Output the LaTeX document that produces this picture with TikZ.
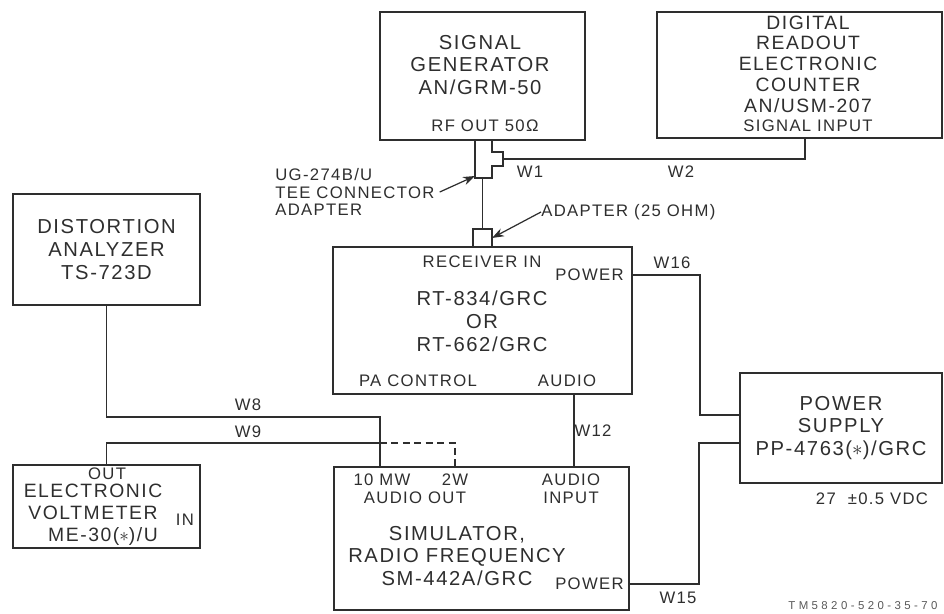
\documentclass[tikz,border=0pt]{standalone}
\usepackage{fontspec}
\setmainfont{Liberation Sans}[LetterSpace=8]
\usetikzlibrary{arrows.meta,positioning,calc}
\usepackage{xcolor}
\definecolor{ink}{HTML}{2E2E2E}
\tikzset{
  unit/.style    = {rectangle, draw=ink, line width=1.3pt, inner sep=0pt, outer sep=0pt,
                    align=center, text=ink, font=\fontsize{11.5}{13}\selectfont},
  big/.style     = {inner sep=0pt, align=center, text=ink, font=\fontsize{11.5}{13}\selectfont},
  port/.style    = {inner sep=0pt, align=center, text=ink, font=\fontsize{9.5}{10.2}\selectfont},
  wire/.style    = {draw=ink, line width=0.9pt},
  dwire/.style   = {draw=ink, line width=0.9pt, dash pattern=on 4pt off 2.5pt},
  callout/.style = {-{Stealth[length=2.4mm,width=1.7mm]}, draw=ink, line width=0.7pt},
}

\begin{document}
\begin{tikzpicture}[x=0.02cm,y=-0.02cm]
    \useasboundingbox (0,0) rectangle (944,613);
    % units
    \node[unit, minimum width=4.1cm, minimum height=2.56cm] (siggen) at (482.5,76) {};
    \node[big] (siggentxt) at (480,65) {SIGNAL\\GENERATOR\\AN/GRM-50};
    \node[port] (rfout) at (485,126) {RF OUT 50Ω};
    \node[unit, minimum width=5.7cm, minimum height=2.52cm] (counter) at (799.5,75) {};
    \node[big, font=\fontsize{11}{11.8}\selectfont] (countertxt) at (808,64) {DIGITAL\\READOUT\\ELECTRONIC\\COUNTER\\AN/USM-207};
    \node[port] (sigin) at (808,126) {SIGNAL INPUT};
    \node[unit, minimum width=3.74cm, minimum height=2.22cm] (distort) at (106.5,249.5) {DISTORTION\\ANALYZER\\TS-723D};
    \node[unit, minimum width=5.98cm, minimum height=2.94cm] (rt) at (482.5,320.5) {};
    \node[port] (rxin) at (482,262) {RECEIVER IN};
    \node[port, anchor=east] (rxpwr) at (624,275) {POWER};
    \node[big] (rttxt) at (482,321) {RT-834/GRC\\OR\\RT-662/GRC};
    \node[port] (pactl) at (418,381) {PA CONTROL};
    \node[port] (rxaudio) at (567,381) {AUDIO};
    \node[unit, minimum width=4.04cm, minimum height=2.2cm] (psu) at (841,428) {POWER\\SUPPLY\\PP-4763($\ast$)/GRC};
    \node[port] (vdc) at (872,499) {27\ \ ±0.5 VDC};
    \node[unit, minimum width=3.74cm, minimum height=1.66cm] (evm) at (106.5,506.5) {};
    \node[port] (vmout) at (107,474) {OUT};
    \node[big, font=\fontsize{11}{12.6}\selectfont] (vmtxt) at (93,502) {ELECTRONIC\\VOLTMETER};
    \node[big, font=\fontsize{11}{12.6}\selectfont] (vmtype) at (103,536) {ME-30($\ast$)/U};
    \node[port] (vmin) at (185,520) {IN};
    \node[unit, minimum width=5.9cm, minimum height=2.86cm] (sim) at (481.5,538.5) {};
    \node[port] (tenmw) at (382,480) {10 MW};
    \node[port] (twow) at (455,480) {2W};
    \node[port] (audout) at (415,498) {AUDIO OUT};
    \node[port] (audin) at (571,489) {AUDIO\\INPUT};
    \node[big] (simtxt) at (457,556) {SIMULATOR,\\RADIO FREQUENCY\\SM-442A/GRC};
    \node[port, anchor=east] (simpwr) at (624,584) {POWER};
    % tee connector and adapter
    \draw[draw=ink, line width=1pt] (475,140) -- (475,178) -- (492,178) -- (492,166) -- (503,166)
        -- (503,152) -- (492,152) -- (492,140);
    \coordinate (teeout) at (503,159);
    \coordinate (teebot) at (482.5,178);
    \node[draw=ink, line width=1pt, inner sep=0pt, outer sep=0pt, minimum width=0.38cm,
          minimum height=0.36cm] (adapter) at (482.5,238) {};
    % cables
    \coordinate (cntin) at (805,138);
    \coordinate (psin1) at (740,415);
    \coordinate (psin2) at (740,443);
    \draw[wire] (teeout) -| (cntin);
    \draw[wire] (teebot) -- (adapter.north);
    \draw[wire] (rt.east |- rxpwr) -- (700,275) -- (700,415) -- (psin1);
    \draw[wire] (sim.east |- simpwr) -- (699,584) -- (699,443) -- (psin2);
    \draw[wire] (rt.south -| 574,0) -- (sim.north -| 574,0);
    \draw[wire] (distort.south) |- (380,417) -- (sim.north -| 380,0);
    \draw[wire] (evm.north) |- (380,443);
    \draw[dwire] (380,443) -| (sim.north -| 455,0);
    % cable names
    \node[port] (w1) at (530,172) {W1};
    \node[port] (w2) at (681,172) {W2};
    \node[port] (w16) at (672,263) {W16};
    \node[port] (w12) at (593,431) {W12};
    \node[port] (w8) at (248,405) {W8};
    \node[port] (w9) at (248,432) {W9};
    \node[port] (w15) at (678,598) {W15};
    % callouts
    \node[port, align=left, anchor=west] (teelbl) at (275,192) {UG-274B/U\\TEE CONNECTOR\\ADAPTER};
    \draw[callout] ([xshift=1mm]teelbl.east) -- (475,176);
    \node[port, anchor=west] (adplbl) at (541,212) {ADAPTER (25 OHM)};
    \draw[callout] (adplbl.west) -- (adapter.east);
    \node[inner sep=0pt, anchor=west, text=ink!80, font=\fontsize{6.5}{7}\selectfont\addfontfeature{LetterSpace=30}] (tmno) at (788,606) {TM5820-520-35-70};
\end{tikzpicture}
\end{document}
